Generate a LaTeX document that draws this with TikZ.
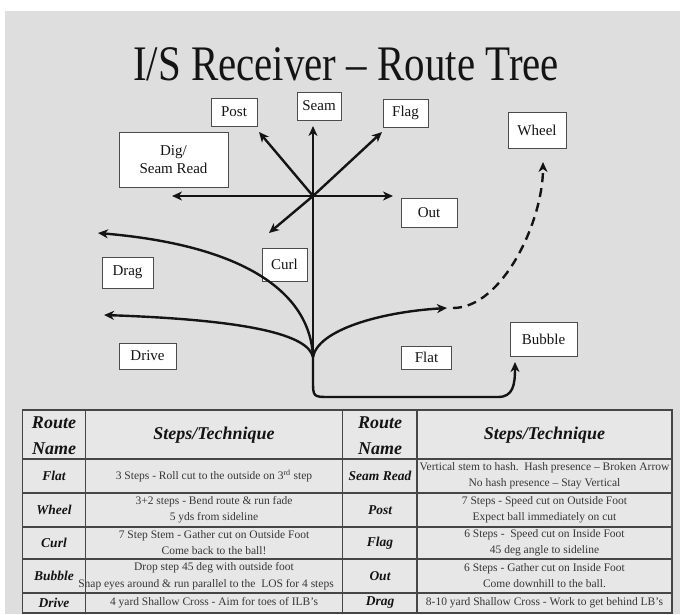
\documentclass[tikz,border=0pt]{standalone}
\usepackage{fontspec}
\setmainfont{Liberation Serif}
\usetikzlibrary{arrows.meta}
\definecolor{bg}{RGB}{222,222,222}
\definecolor{cellbg}{RGB}{231,231,231}
\definecolor{gridc}{RGB}{70,70,70}
\definecolor{txt}{RGB}{55,55,55}
\definecolor{ink}{RGB}{20,20,20}
\begin{document}
\begin{tikzpicture}[x=1pt,y=-1pt,
  lbl/.style={draw=black!70, line width=1pt, fill=white, text=ink,
    font=\fontsize{15}{18}\selectfont, inner sep=0pt, align=center},
  route/.style={line width=2.4pt, draw=ink, -{Stealth[length=10pt,width=9pt,inset=3pt]}},
  hdr/.style={font=\fontsize{18}{26}\selectfont\bfseries\itshape, text=ink, align=center},
  nm/.style={font=\fontsize{13.5}{15}\selectfont\bfseries\itshape, text=ink},
  desc/.style={font=\fontsize{11.5}{16}\selectfont, text=txt, align=center},
  gridline/.style={draw=gridc, line width=1.2pt}]
\useasboundingbox (0,0) rectangle (680,614);
\fill[white] (0,0) rectangle (680,614);
\fill[bg] (5,11) rectangle (680,614);

% title
\node[anchor=base, text=ink] (title) at (346,80)
  {\scalebox{0.93}[1.13]{\fontsize{44}{44}\selectfont I/S Receiver – Route Tree}};

% labels
\node[lbl, minimum width=46pt, minimum height=28pt] (post) at (234,112) {Post};
\node[lbl, minimum width=44pt, minimum height=28pt] (seam) at (319,106) {Seam};
\node[lbl, minimum width=45pt, minimum height=28pt] (flag) at (405.5,113) {Flag};
\node[lbl, minimum width=109pt, minimum height=55pt] (dig) at (173.5,159.5) {Dig/\\Seam Read};
\node[lbl, minimum width=58pt, minimum height=36pt] (wheel) at (537,130) {Wheel};
\node[lbl, minimum width=56pt, minimum height=29pt] (out) at (429,212.5) {Out};
\node[lbl, minimum width=45pt, minimum height=33pt] (curl) at (284.5,264.5) {Curl};
\node[lbl, minimum width=51pt, minimum height=31pt] (drag) at (127.5,272.5) {Drag};
\node[lbl, minimum width=57pt, minimum height=26pt] (drive) at (147.5,356) {Drive};
\node[lbl, minimum width=50pt, minimum height=23pt] (flat) at (426.5,357.5) {Flat};
\node[lbl, minimum width=67pt, minimum height=34pt] (bubble) at (543.5,339) {Bubble};

% tree points
\coordinate (B) at (313,357);
\coordinate (C) at (313,196);
\coordinate (seamT) at (313,126);
\coordinate (postT) at (259,132);
\coordinate (flagT) at (382,132);
\coordinate (curlT) at (269,233);
\coordinate (digT) at (172,196);
\coordinate (outT) at (393,196);
\coordinate (dragT) at (98,233);
\coordinate (driveT) at (104,315);
\coordinate (flatT) at (447,308);
\coordinate (wheelS) at (453,308);
\coordinate (wheelT) at (543,162);
\coordinate (bubbleT) at (515,362);

% routes
\draw[route] (B) -- (seamT);
\draw[route, {Stealth[length=10pt,width=9pt,inset=3pt]}-{Stealth[length=10pt,width=9pt,inset=3pt]}] (digT) -- (outT);
\draw[route] (C) -- (postT);
\draw[route] (C) -- (flagT);
\draw[route] (C) -- (curlT);
\draw[route] (B) .. controls (310,290) and (240,245) .. (dragT);
\draw[route] (B) .. controls (308,335) and (250,320) .. (driveT);
\draw[route] (B) .. controls (318,330) and (380,312) .. (flatT);
\draw[route, dash pattern=on 9pt off 6pt] (wheelS) .. controls (502,308) and (543,222) .. (wheelT);
\draw[route] (B) -- (313,380) .. controls (313,397) .. (330,397) -- (498,397) .. controls (513,397) and (515,385) .. (bubbleT);

% table
\fill[cellbg] (22.7,410) rectangle (672,613);
\draw[gridline] (22.7,410) rectangle (672,613);
\foreach \xx in {85.5,342.7,417} \draw[gridline] (\xx,410) -- (\xx,613);
\foreach \yy in {459,493,527,559,593} \draw[gridline] (22.7,\yy) -- (672,\yy);

\node[hdr] (h1) at (54,436) {Route\\Name};
\node[hdr] (h2) at (214,435) {Steps/Technique};
\node[hdr] (h3) at (380,436) {Route\\Name};
\node[hdr] (h4) at (544.5,435) {Steps/Technique};

\node[nm] (n1) at (54,476) {Flat};
\node[nm] (n2) at (54,510) {Wheel};
\node[nm] (n3) at (54,543) {Curl};
\node[nm] (n4) at (54,576) {Bubble};
\node[nm] (n5) at (54,603) {Drive};
\node[nm] (n6) at (380,476) {Seam Read};
\node[nm] (n7) at (380,510) {Post};
\node[nm] (n8) at (380,543) {Flag};
\node[nm] (n9) at (380,576) {Out};
\node[nm] (n10) at (380,603) {Drag};

\node[desc] (d1) at (214,476) {3 Steps - Roll cut to the outside on 3\textsuperscript{rd} step};
\node[desc] (d2) at (214,510) {3+2 steps - Bend route \& run fade\\5 yds from sideline};
\node[desc] (d3) at (214,543) {7 Step Stem - Gather cut on Outside Foot\\Come back to the ball!};
\node[desc] (d4) at (214,568) {Drop step 45 deg with outside foot};
\node[desc] (d4b) at (206,585) {Snap eyes around \& run parallel to the\ \ LOS for 4 steps};
\node[desc] (d5) at (214,603) {4 yard Shallow Cross - Aim for toes of ILB's};
\node[desc] (d6) at (544.5,476) {Vertical stem to hash.\ \ Hash presence – Broken Arrow\\No hash presence – Stay Vertical};
\node[desc] (d7) at (544.5,510) {7 Steps - Speed cut on Outside Foot\\Expect ball immediately on cut};
\node[desc] (d8) at (544.5,543) {6 Steps -\ \ Speed cut on Inside Foot\\45 deg angle to sideline};
\node[desc] (d9) at (544.5,576) {6 Steps - Gather cut on Inside Foot\\Come downhill to the ball.};
\node[desc] (d10) at (544.5,603) {8-10 yard Shallow Cross - Work to get behind LB's};
\end{tikzpicture}
\end{document}
